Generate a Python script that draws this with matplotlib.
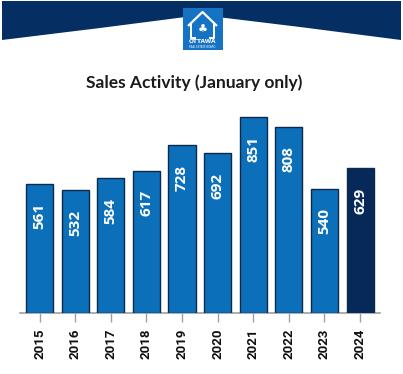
import matplotlib
matplotlib.use("Agg")
import matplotlib.pyplot as plt
from matplotlib.patches import Polygon, Rectangle

years = ["2015", "2016", "2017", "2018", "2019", "2020", "2021", "2022", "2023", "2024"]
sales = [561, 532, 584, 617, 728, 692, 851, 808, 540, 629]
title = "Sales Activity (January only)"

W, H = 403, 374
fig = plt.figure(figsize=(W / 100, H / 100), dpi=100)
fig.patch.set_facecolor("white")

# header band
hdr = fig.add_axes([0, 0, 1, 1])
hdr.set_xlim(0, W)
hdr.set_ylim(H, 0)
hdr.axis("off")
band = Polygon([(2, 1), (401, 1), (401, 40), (300, 27), (201, 15), (100, 28), (2, 40)],
               closed=True, facecolor="#052f62", edgecolor="none")
hdr.add_patch(band)
hdr.add_patch(Rectangle((182.5, 8), 40.5, 42, facecolor="#1673c4", edgecolor="none"))
# house outline
hdr.plot([188, 202.5, 217], [26, 12, 26], color="white", lw=1.6, solid_capstyle="butt")
hdr.plot([191, 191, 195], [23, 38, 38], color="white", lw=1.4)
hdr.plot([210, 214, 214], [38, 38, 23], color="white", lw=1.4)
hdr.text(202.5, 30, "\u2663", color="white", fontsize=8, ha="center", va="center")
hdr.text(202.5, 41.5, "OTTAWA", color="white", fontsize=4.2, fontweight="bold",
         ha="center", va="center", family="DejaVu Sans")
hdr.text(202.5, 46.5, "REAL ESTATE BOARD", color="white", fontsize=1.8,
         ha="center", va="center")

fig.text(194 / W, 1 - 83 / H, title, fontsize=12.5, fontweight="bold", family="Lato",
         ha="center", va="center", color="#1a1a1a")

ax = fig.add_axes([20 / W, 1 - 313 / H, 360 / W, 213 / H])
colors = ["#0b6fba"] * (len(years) - 1) + ["#07295a"]
x = list(range(len(years)))
bars = ax.bar(x, sales, width=0.76, color=colors, edgecolor="#0c2a4c", linewidth=1.0, zorder=3)
ax.set_xlim(-0.55, 9.56)
ax.set_ylim(0, 924)
for b, v in zip(bars, sales):
    ax.annotate(str(v), (b.get_x() + b.get_width() / 2, v), xytext=(0, -19.5 * 0.72),
                textcoords="offset points", rotation=90, ha="center", va="top",
                color="white", fontsize=11, fontweight="bold", family="Open Sans")
for s in ["top", "right", "left"]:
    ax.spines[s].set_visible(False)
ax.spines["bottom"].set_color("#a0a0a0")
ax.spines["bottom"].set_linewidth(1.2)
ax.set_yticks([])
ax.set_xticks(x)
ax.set_xticklabels(years, rotation=90, fontsize=9.5, fontweight="bold",
                   family="Roboto", color="#111111")
ax.tick_params(axis="x", length=6.5, width=1, color="#a0a0a0", pad=4.5)
ax.set_facecolor("none")

fig.savefig("out.png", dpi=100, facecolor="white")
